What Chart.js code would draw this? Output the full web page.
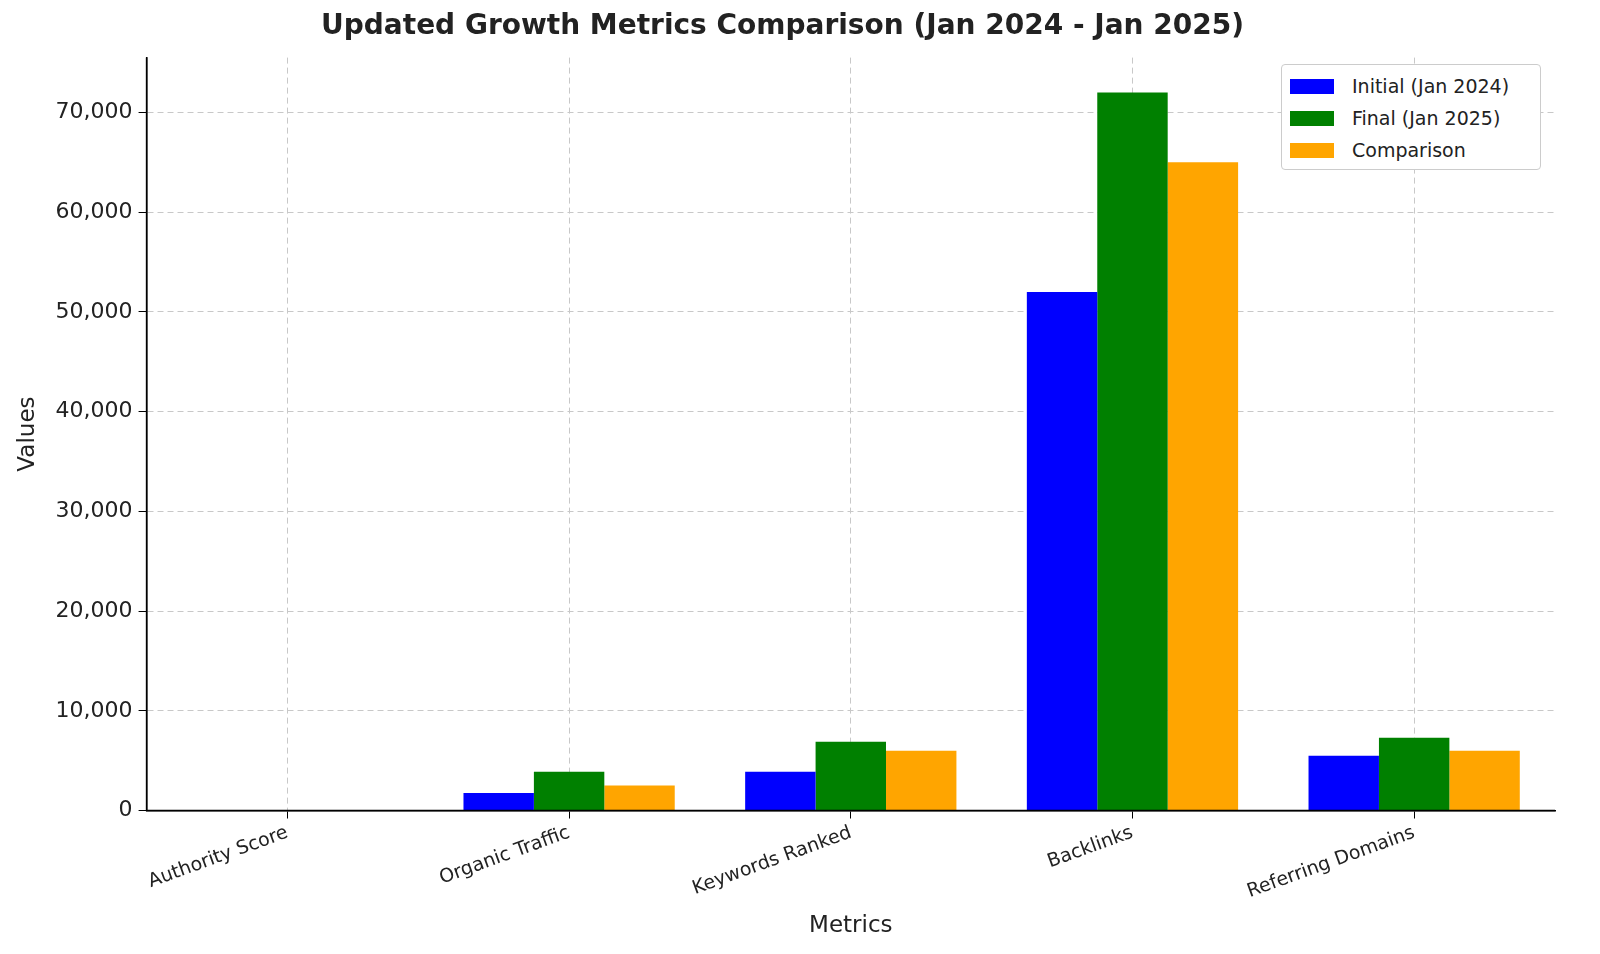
<!DOCTYPE html>
<html>
<head>
<meta charset="utf-8">
<script src="https://cdn.jsdelivr.net/npm/chart.js@4/dist/chart.umd.min.js"></script>
<style>
  body { margin: 0; background: #fff; font-family: 'DejaVu Sans', sans-serif; }
  #wrap { position: relative; width: 1600px; height: 954px; }
  #legend { position: absolute; left: 1281px; top: 64px; width: 260px; border: 1px solid #ccc; border-radius: 4px; background: #fff; padding: 5px 0 3px 8px; font-size: 19px; color: #222; box-sizing: border-box; }
  #legend div { display: flex; align-items: center; height: 32px; }
  #legend span.box { width: 44px; height: 15px; margin-right: 18px; display: inline-block; }
</style>
</head>
<body>
<div id="wrap">
  <canvas id="growthChart" width="1600" height="954"></canvas>
  <div id="legend"></div>
</div>
<script>
const categories = ['Authority Score', 'Organic Traffic', 'Keywords Ranked', 'Backlinks', 'Referring Domains'];
const initialValues = [20, 1750, 3900, 52000, 5500];
const finalValues = [30, 3900, 6900, 72000, 7300];
const comparisonValues = [25, 2500, 6000, 65000, 6000];
const yTicks = [0, 10000, 20000, 30000, 40000, 50000, 60000, 70000];

const seriesInfo = [
    { label: 'Initial (Jan 2024)', data: initialValues, color: '#0000ff' },
    { label: 'Final (Jan 2025)', data: finalValues, color: '#008000' },
    { label: 'Comparison', data: comparisonValues, color: '#ffa500' }
];

// html legend inside the plot, like the original
const legendEl = document.getElementById('legend');
seriesInfo.forEach(s => {
    const row = document.createElement('div');
    row.innerHTML = '<span class="box" style="background:' + s.color + '"></span>' + s.label;
    legendEl.appendChild(row);
});

const ctx = document.getElementById('growthChart').getContext('2d');
new Chart(ctx, {
    type: 'bar',
    data: {
        labels: categories,
        datasets: seriesInfo.map(s => ({
            label: s.label,
            data: s.data,
            backgroundColor: s.color,
            borderWidth: 0,
            categoryPercentage: 0.75,
            barPercentage: 1.0
        }))
    },
    options: {
        responsive: false,
        animation: false,
        layout: { padding: { left: 10, right: 45, top: 6, bottom: 10 } },
        plugins: {
            legend: { display: false },
            tooltip: { enabled: false },
            title: {
                display: true,
                text: 'Updated Growth Metrics Comparison (Jan 2024 - Jan 2025)',
                color: '#222',
                font: { family: 'DejaVu Sans', size: 28 },
                padding: { top: 4, bottom: 14 }
            }
        },
        scales: {
            x: {
                grid: { color: '#c8c8c8', tickLength: 8, tickColor: '#000', drawOnChartArea: true, offset: false },
                border: { display: true, color: '#000', width: 1.5, dash: [6, 4] },
                ticks: { color: '#222', font: { family: 'DejaVu Sans', size: 19 }, maxRotation: 20, minRotation: 20 },
                title: { display: true, text: 'Metrics', color: '#222', font: { family: 'DejaVu Sans', size: 23 }, padding: { top: 6 } }
            },
            y: {
                min: 0,
                max: 75500,
                afterBuildTicks: axis => { axis.ticks = yTicks.map(v => ({ value: v })); },
                grid: { color: '#c8c8c8', tickLength: 8, tickColor: '#000' },
                border: { display: true, color: '#000', width: 1.5, dash: [6, 4] },
                ticks: { color: '#222', font: { family: 'DejaVu Sans', size: 22 }, padding: 6 },
                title: { display: true, text: 'Values', color: '#222', font: { family: 'DejaVu Sans', size: 23 }, padding: { bottom: 8 } }
            }
        }
    },
    plugins: [{
        // dashed grid with solid left/bottom axis lines drawn on top
        id: 'axisLines',
        beforeDraw(chart) {
            chart.ctx.save();
        },
        afterDraw(chart) {
            const { ctx, chartArea: a } = chart;
            ctx.save();
            ctx.strokeStyle = '#000';
            ctx.lineWidth = 1.5;
            ctx.setLineDash([]);
            ctx.beginPath();
            ctx.moveTo(a.left, a.top);
            ctx.lineTo(a.left, a.bottom);
            ctx.lineTo(a.right, a.bottom);
            ctx.stroke();
            ctx.restore();
        }
    }]
});
</script>
</body>
</html>
